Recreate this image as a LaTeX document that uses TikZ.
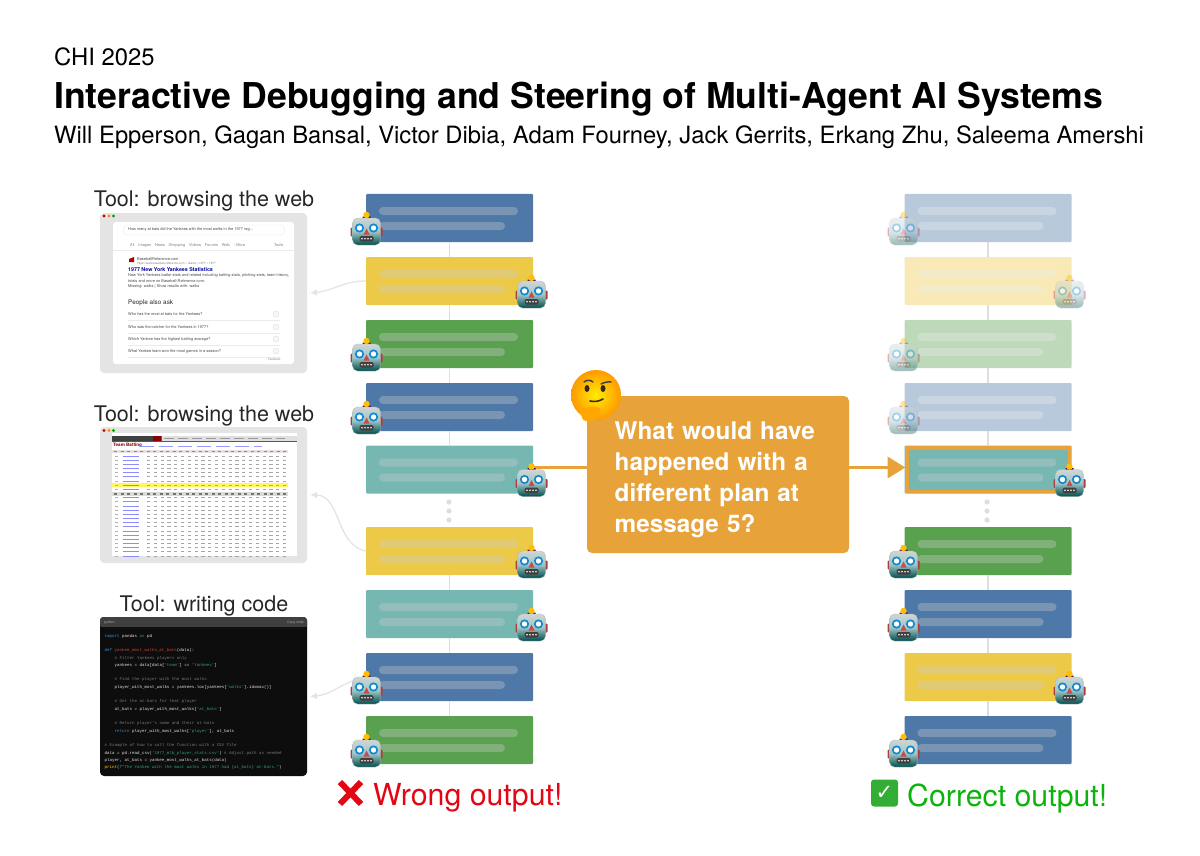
\documentclass[tikz,border=0pt]{standalone}
\usepackage{xcolor}
\usepackage{fontspec}
\setmainfont{TeX Gyre Heros}
\setmonofont{Liberation Mono}
\newfontfamily\checkfont{DejaVu Sans}
\usetikzlibrary{arrows.meta, positioning, calc}

\definecolor{tabblue}{HTML}{4E78A7}
\definecolor{tabyellow}{HTML}{EDC948}
\definecolor{tabgreen}{HTML}{59A14F}
\definecolor{tabteal}{HTML}{76B7B2}
\definecolor{callorange}{HTML}{E8A23A}
\definecolor{shotgrey}{HTML}{E4E4E4}
\definecolor{linkgrey}{HTML}{DEDEDE}
\definecolor{codeblue}{HTML}{3F8FC4}
\definecolor{codered}{HTML}{D0443E}
\definecolor{codegreen}{HTML}{2FA37C}
\definecolor{codegrey}{HTML}{77797C}
\definecolor{wrongred}{HTML}{E30613}
\definecolor{rightgreen}{HTML}{0CB30C}

\newcommand{\fsz}[1]{\fontsize{#1}{#1}\selectfont}
\newcommand{\msgbars}[1]{%
    \fill[stripe] ($(#1.north west)+(13,13)$) rectangle +(139,8);
    \fill[stripe] ($(#1.north west)+(13,28)$) rectangle +(126,8);
}

\tikzset{
    robot/.pic={
        \fill[red!55!black!75, rounded corners=1pt] (-16,-4) rectangle (16,5);
        \fill[violet!60!black] (-4,-15) rectangle (4,-12);
        \fill[orange!50!yellow] (0,-16.5) circle (3.2);
        \draw[rounded corners=5pt, draw=black!30, top color=cyan!8!gray!35, bottom color=teal!60!black, middle color=cyan!25!gray!60, line width=0.3pt]
            (-14,-13.5) rectangle (14,13.5);
        \foreach \ex in {-7,7} {
            \fill[cyan!70!blue] (\ex,-3.5) circle (4.6);
            \fill[white] (\ex,-3.5) circle (2.7);
        }
        \fill[red!70!black!70] (-3,3) -- (0,-3) -- (3,3) -- cycle;
        \fill[rounded corners=1.5pt, black!75] (-7,4.5) rectangle (7,10);
        \foreach \mx in {-4.5,-1.5,1.5,4.5}
            \fill[white] (\mx,7.2) circle (0.9);
    },
    thinkface/.pic={
        \shade[inner color=yellow!85!orange, outer color=orange!80!yellow] (0,0) circle (25);
        \draw[black!75, line width=1.5pt, line cap=round] (-12,-13) to[bend left=40] (-3,-13);
        \draw[black!75, line width=1.5pt, line cap=round] (5,-11) to[bend left=15] (15,-13);
        \fill[black!70!brown] (-9,-6.5) ellipse (2.5 and 3.5);
        \fill[black!70!brown] (7,-6.5) ellipse (2.5 and 3.5);
        \draw[black!70!brown, line width=1.6pt, line cap=round] (-6,6) to[bend right=20] (7,4);
        \fill[orange!70!yellow, rounded corners=3pt] (-19,6) -- (-13,26) -- (-2,26) -- (6,14) -- (-4,11) -- (-13,14) -- cycle;
    },
}

\begin{document}
\begin{tikzpicture}[x=1pt, y=-1pt,
    msg/.style={rectangle, minimum width=167pt, minimum height=48pt, inner sep=0pt, outer sep=0pt, rounded corners=1pt},
    stripe/.style={black!20, opacity=0.35, rounded corners=3.9pt},
    link/.style={draw=linkgrey, line width=1.5pt},
    dotmark/.style={fill=linkgrey},
    toolarrow/.style={draw=shotgrey, line width=1.3pt, -{Latex[length=7pt,width=7pt]}},
    planarrow/.style={draw=callorange, line width=3.6pt},
    shot/.style={rectangle, fill=shotgrey, minimum width=207pt, rounded corners=4pt, inner sep=0pt, outer sep=0pt},
    toollabel/.style={inner sep=0pt, font=\fsz{21.5}, text=black!85},
    lbl/.style={inner sep=0pt, anchor=west},
    web/.style={inner sep=0pt, anchor=west, text=black!70, font=\fsz{3.9}},
    tiny/.style={line width=1.2pt},
]
\useasboundingbox (0,0) rectangle (1200,856);

% header
\node[lbl, font=\fsz{23.8}] (venue) at (54,56.5) {CHI 2025};
\node[lbl, font=\bfseries\fsz{35.6}] (title) at (54,99) {Interactive Debugging and Steering of Multi-Agent AI Systems};
\node[lbl, font=\fsz{23.8}] (authors) at (54,137) {Will Epperson, Gagan Bansal, Victor Dibia, Adam Fourney, Jack Gerrits, Erkang Zhu, Saleema Amershi};

% first tool: search page
\node[toollabel] (tool1) at (204,201) {Tool: browsing the web};
\node[shot, minimum height=160pt] (shot1) at (203.5,293) {};
\node[rectangle, fill=white, rounded corners=3pt, minimum width=181pt, minimum height=142pt] (page1) at (203.5,293) {};
\fill[red!80!black] (104,216) circle (1.6);
\fill[orange!90!yellow] (109,216) circle (1.6);
\fill[green!65!black] (113.5,216) circle (1.6);
\draw[black!8, fill=white, rounded corners=5pt] (123,225) rectangle (285,235);
\node[web] (query) at (128,230) {How many at bats did the Yankees with the most walks in the 1977 reg...};
\node[web, text=black!50] (tabs) at (130,245) {All\quad Images\quad News\quad Shopping\quad Videos\quad Forums\quad Web\quad : More};
\node[web, text=black!50] (tools) at (274,245) {Tools};
\draw[black!8, line width=0.4pt] (113,250) -- (294,250);
\fill[red!70!black] (129,259) -- (134,257) -- (134,262) -- (129,262) -- cycle;
\node[web] (site) at (137,259) {BaseballReference.com};
\node[web, text=black!50, font=\fsz{3}] (url) at (137,263.5) {https://www.baseball-reference.com \textgreater{} teams \textgreater{} NYY \textgreater{} 1977};
\node[web, text=blue!60!black, font=\bfseries\fsz{5.3}] (hit) at (128,270) {1977 New York Yankees Statistics};
\node[web] (snip1) at (128,276) {New York Yankees batter stats and related including batting stats, pitching stats, team history,};
\node[web] (snip2) at (128,281) {totals and more on Baseball-Reference.com.};
\node[web] (snip3) at (128,286.5) {Missing: walks | Show results with: walks};
\node[web, text=black!85, font=\fsz{6.4}] (ask) at (128,303) {People also ask};
\foreach \yy/\ques in {314/Who has the most at bats for the Yankees?, 327/Who was the catcher for the Yankees in 1977?, 339/Which Yankee has the highest batting average?, 351/What Yankee team won the most games in a season?} {
    \node[web] at (128,\yy) {\ques};
    \draw[black!8, line width=0.4pt] (128,\yy+6) -- (280,\yy+6);
    \draw[black!15, fill=black!3, line width=0.3pt] (276,\yy) circle (3);
}
\node[web, text=black!50, font=\fsz{2.8}] (feedback) at (268,359.5) {Feedback};

% second tool: stats table
\node[toollabel] (tool2) at (204,416) {Tool: browsing the web};
\node[shot, minimum height=136pt] (shot2) at (203.5,495) {};
\node[rectangle, fill=white, minimum width=185pt, minimum height=123pt] (page2) at (204,494.5) {};
\fill[red!80!black] (104,430.5) circle (1.6);
\fill[orange!90!yellow] (109,430.5) circle (1.6);
\fill[green!65!black] (113.5,430.5) circle (1.6);
\fill[black!65] (112,436) rectangle (296.5,441.5);
\fill[black!75] (112,435.5) rectangle (153,441);
\fill[red!55!black] (153,435.5) rectangle (161,441);
\fill[white!88!black] (162,435.5) rectangle (296.5,441);
\draw[black!40, line width=1pt, dash pattern=on 10pt off 4pt] (164,438) -- (285,438);
\node[web, text=red!50!black, font=\bfseries\fsz{4.6}] (batting) at (113,445.5) {Team Batting};
\draw[blue!40!white, line width=0.9pt, dash pattern=on 14pt off 5pt] (140,446) -- (262,446);
\fill[red!25!black!12] (112,449.5) rectangle (288,453);
\draw[black!45, tiny, dash pattern=on 3.3pt off 3.2pt] (114,451.2) -- (287,451.2);
\fill[yellow!65!white] (112,483.3) rectangle (288,487);
\fill[black!14] (112,492.3) rectangle (288,495.8);
\foreach \row in {0,...,23} {
    \pgfmathsetmacro{\yy}{456+4.17*\row+(\row>8)*4.17}
    \draw[black!30, line width=0.9pt, dash pattern=on 3pt off 3.5pt] (115,\yy) -- (121,\yy);
    \draw[blue!45!white, line width=0.9pt] (123,\yy) -- (139,\yy);
    \draw[black!35, line width=0.9pt, dash pattern=on 3.2pt off 3.6pt] (147,\yy) -- (287,\yy);
}
\draw[black!55, tiny, dash pattern=on 3.3pt off 3.2pt] (114,494) -- (287,494);

% third tool: code
\node[toollabel] (tool3) at (204,606) {Tool: writing code};
\node[shot, fill=black!95, minimum height=159pt] (shot3) at (203.5,696.5) {};
\fill[black!75, rounded corners=3pt] (100,617) rectangle (307,628);
\fill[black!95] (100,627) rectangle (307,628);
\node[lbl, text=black!35, font=\fsz{3.5}] (lang) at (104,622.5) {python};
\node[lbl, text=black!35, font=\fsz{3.5}] (copy) at (287,622.5) {Copy code};
\node[inner sep=0pt, anchor=north west, align=left, text=white!90!black, font=\ttfamily\fontsize{4.15}{7.33}\selectfont] (code) at (104.5,633.8) {%
\textcolor{codeblue}{import} pandas \textcolor{codeblue}{as} pd\\
\\
\textcolor{codeblue}{def} \textcolor{codered}{yankee\_most\_walks\_at\_bats}(data):\\
\hspace*{10pt}\textcolor{codegrey}{\# Filter Yankees players only}\\
\hspace*{10pt}yankees = data[data[\textcolor{codegreen}{'team'}] == \textcolor{codegreen}{'Yankees'}]\\
\\
\hspace*{10pt}\textcolor{codegrey}{\# Find the player with the most walks}\\
\hspace*{10pt}player\_with\_most\_walks = yankees.loc[yankees[\textcolor{codegreen}{'walks'}].idxmax()]\\
\\
\hspace*{10pt}\textcolor{codegrey}{\# Get the at-bats for that player}\\
\hspace*{10pt}at\_bats = player\_with\_most\_walks[\textcolor{codegreen}{'at\_bats'}]\\
\\
\hspace*{10pt}\textcolor{codegrey}{\# Return player's name and their at-bats}\\
\hspace*{10pt}\textcolor{codeblue}{return} player\_with\_most\_walks[\textcolor{codegreen}{'player'}], at\_bats\\
\\
\textcolor{codegrey}{\# Example of how to call the function with a CSV file}\\
data = pd.read\_csv(\textcolor{codegreen}{'1977\_mlb\_player\_stats.csv'})  \textcolor{codegrey}{\# Adjust path as needed}\\
player, at\_bats = yankee\_most\_walks\_at\_bats(data)\\
\textcolor{yellow!70!orange}{print}(\textcolor{codegreen}{f"The Yankee with the most walks in 1977 had \{at\_bats\} at-bats."})};

% message columns
\node[rectangle, fill=callorange, rounded corners=5pt, minimum width=262pt, minimum height=157pt, inner sep=0pt, outer sep=0pt] (callout) at (718,474.5) {};
\node[lbl, text=white, align=left, font=\bfseries\fontsize{24.3}{31}\selectfont, text width=230pt] (question) at (614.5,479.5) {What would have\\ happened with a\\ different plan at\\ message 5?};

\foreach \nm/\xx/\yy/\col/\op in {
    l1/449.5/218/tabblue/1, l2/449.5/281/tabyellow/1, l3/449.5/344/tabgreen/1,
    l4/449.5/407/tabblue/1, l5/449.5/469.5/tabteal/1, l6/449.5/551/tabyellow/1,
    l7/449.5/614/tabteal/1, l8/449.5/677/tabblue/1, l9/449.5/740/tabgreen/1,
    r1/988/218/tabblue/0.4, r2/988/281/tabyellow/0.4, r3/988/344/tabgreen/0.4,
    r4/988/407/tabblue/0.4, r5/988/469.5/tabteal/1, r6/988/551/tabgreen/1,
    r7/988/614/tabblue/1, r8/988/677/tabyellow/1, r9/988/740/tabblue/1} {
    \begin{scope}[transparency group, opacity=\op]
        \node[msg, fill=\col] (\nm) at (\xx,\yy) {};
        \msgbars{\nm}
    \end{scope}
}
\draw[callorange, line width=3.5pt] (906.75,447.75) rectangle (1069.25,491.25);

% connectors
\foreach \a/\b in {l1/l2, l2/l3, l3/l4, l4/l5, l6/l7, l7/l8, l8/l9, r1/r2, r2/r3, r3/r4, r4/r5, r6/r7, r7/r8, r8/r9}
    \draw[link] (\a) -- (\b);
\foreach \xx in {449,987}
    \foreach \yy in {502,511,520}
        \fill[dotmark] (\xx,\yy) circle (2.6);

\draw[planarrow] ([yshift=2pt]l5.east) -- ([yshift=2pt]l5.east -| callout.west);
\draw[planarrow, -{Triangle[length=18pt,width=21pt]}, shorten >=-1pt] ([yshift=2pt]r5.west -| callout.east) -- ([yshift=2pt]r5.west);

\draw[toolarrow] (l2.west) to[out=180,in=5] ($(shot1.east)+(3,0)$);
\draw[toolarrow] (l6.west) to[out=170,in=0] ($(shot2.east)+(3,0)$);
\draw[toolarrow] (l8.west) to[out=190,in=5] ($(shot3.east)+(3,0)$);

% robots
\foreach \nm/\an/\dx/\op in {
    l1/west/0.5/1, l2/east/-1.5/1, l3/west/0.5/1, l4/west/0.5/1, l5/east/-1.5/1,
    l6/east/-1.5/1, l7/east/-1.5/1, l8/west/0.5/1, l9/west/0.5/1,
    r1/west/-1/0.4, r2/east/-2/0.4, r3/west/-1/0.4, r4/west/-1/0.4, r5/east/-2/1,
    r6/west/-1/1, r7/west/-1/1, r8/east/-2/1, r9/west/-1/1} {
    \begin{scope}[transparency group, opacity=\op]
        \pic at ($(\nm.\an)+(\dx,13.5)$) {robot};
    \end{scope}
}

\pic at (596,395) {thinkface};

% outcome labels
\draw[wrongred, line width=6pt] (340,782) -- (361,804) (361,782) -- (340,804);
\node[lbl, text=wrongred, font=\fsz{30.3}] (wrong) at (373,798) {Wrong output!};
\node[rectangle, fill=green!60!black!80!white, rounded corners=3pt, minimum size=27pt, inner sep=0pt] (tick) at (884.5,793) {};
\node[inner sep=0pt, text=white, font=\checkfont\bfseries\fsz{21}] (tickmark) at (tick) {✓};
\node[lbl, text=rightgreen, font=\fsz{30.3}] (right) at (907,798) {Correct output!};
\end{tikzpicture}
\end{document}
